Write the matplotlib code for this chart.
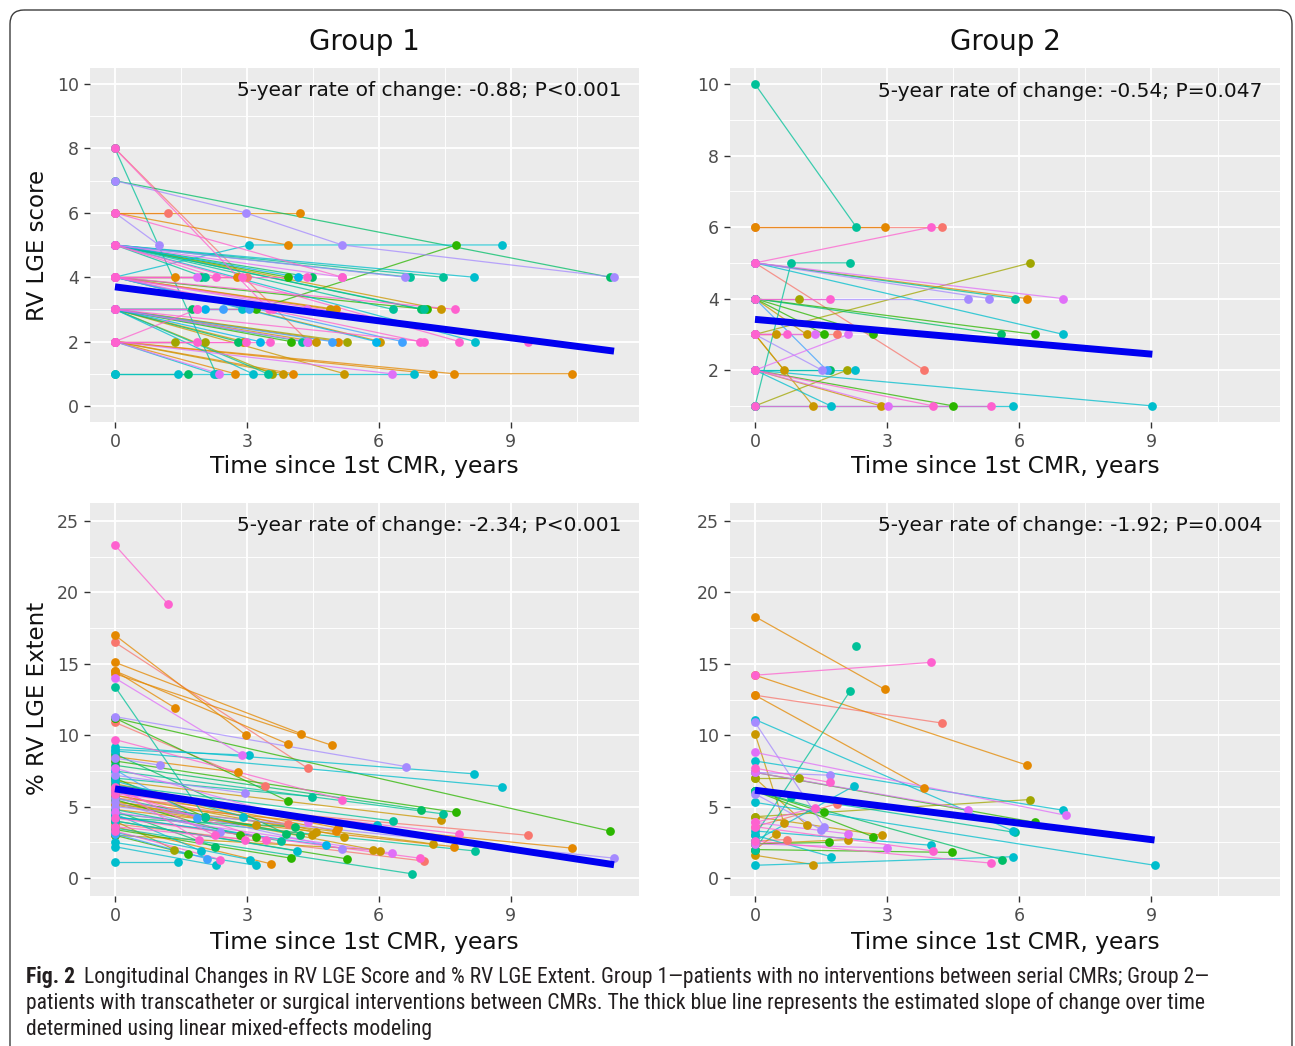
import numpy as np
import matplotlib
matplotlib.use("Agg")
import matplotlib.pyplot as plt
from matplotlib.patches import FancyBboxPatch
from matplotlib import font_manager

# ---------------------------------------------------------------- data
panel_titles = ["Group 1", "Group 2"]
x_label = "Time since 1st CMR, years"
y_labels = ["RV LGE score", "% RV LGE Extent"]
annotations = [["5-year rate of change: -0.88; P<0.001", "5-year rate of change: -0.54; P=0.047"],
               ["5-year rate of change: -2.34; P<0.001", "5-year rate of change: -1.92; P=0.004"]]

# fitted mixed-model lines: intercept and 5-year change
trend_intercept = [[3.70, 3.42], [6.25, 6.15]]
trend_change_5y = [[-0.88, -0.54], [-2.34, -1.92]]

x_ticks = [0, 3, 6, 9]
score_ticks_g1 = [0, 2, 4, 6, 8, 10]
score_ticks_g2 = [2, 4, 6, 8, 10]
extent_ticks = [0, 5, 10, 15, 20, 25]

# ---- Group 1, RV LGE score (per patient: times, values, patient colour group)
g1_score_t = [[0, 2.3], [0, 3.5], [0, 4.4], [0, 11.25], [0, 2.97, 5.17, 11.35], [0, 1.0], [0, 1.2], [0, 4.2],
              [0, 3.93], [0, 5.17], [0, 3.05, 8.81], [0, 3.2, 7.76], [0, 8.16], [0, 7.45], [0, 6.7], [0, 6.6],
              [0, 4.17], [0, 4.47], [0, 3.93], [0, 2.04], [0, 2.3], [0, 5.17], [0, 6.32], [0, 6.97],
              [0, 7.02], [0, 7.42], [0, 8.19], [0, 7.83], [0, 1.37], [0, 1.87], [0, 1.96], [0, 2.78],
              [0, 2.9], [0, 3.0], [0, 4.36], [0, 7.73], [0, 7.09], [0, 4.9], [0, 5.03], [0, 4.36],
              [0, 3.04], [0, 6.53], [0, 6.93], [0, 5.94], [0, 6.03], [0, 9.39], [0, 1.75], [0, 1.87],
              [0, 2.04], [0, 2.46], [0, 2.9], [0, 3.6], [0, 4.0], [0, 4.26], [0, 4.36], [0, 4.57],
              [0, 4.93], [0, 5.08], [0, 5.27], [0, 7.02], [0, 2.8], [0, 2.92], [0, 3.29], [0, 3.13],
              [0, 3.47], [0, 3.57], [0, 5.22], [0, 1.37], [0, 1.87], [0, 2.04], [0, 2.97], [0, 3.52],
              [0, 2.25], [0, 2.37], [0, 2.73], [0, 3.83], [0, 4.04], [0, 6.29], [0, 7.23], [0, 1.44, 6.8],
              [0, 1.65], [0, 7.71, 10.39], [0, 1.87]]
g1_score_v = [[8, 1], [8, 3], [8, 2], [7, 4], [7, 6, 5, 4], [6, 5], [6, 6], [6, 6],
              [6, 5], [6, 4], [4, 5, 5], [3, 3, 5], [5, 4], [5, 4], [5, 4], [5, 4],
              [5, 4], [5, 4], [5, 4], [5, 4], [5, 4], [5, 4], [5, 3], [5, 3],
              [5, 3], [5, 3], [5, 2], [5, 2], [4, 4], [4, 4], [4, 4], [4, 4],
              [4, 4], [4, 4], [4, 4], [4, 3], [4, 3], [4, 3], [4, 3], [4, 3],
              [4, 3], [4, 2], [4, 2], [4, 2], [4, 2], [4, 2], [3, 3], [3, 3],
              [3, 3], [3, 3], [3, 3], [3, 3], [3, 2], [3, 2], [3, 2], [3, 2],
              [3, 2], [3, 2], [3, 2], [3, 2], [3, 2], [3, 2], [3, 2], [3, 1],
              [3, 1], [3, 1], [3, 1], [2, 2], [2, 2], [2, 2], [2, 2], [2, 2],
              [2, 1], [2, 1], [2, 1], [2, 1], [2, 1], [2, 1], [2, 1], [1, 1, 1],
              [1, 1], [2, 1, 1], [2, 3]]
g1_score_pid = ("t k r e p p r o  o k c g c t t p  b e g t k m t e  t y c k o m e o  "
                "k r k k g y o m  v v k b y k e m  b v c k g t m y  v o l k e y b c  "
                "t l y l k l k k  c m o y o m o c  e o k").split()

# ---- Group 1, % RV LGE extent
g1_ext_t = [[0, 1.2], [0, 2.98], [0, 4.38], [0, 4.24], [0, 3.93], [0, 4.93], [0, 1.37], [0, 2.9],
            [0, 2.04], [0, 6.63], [0, 11.25], [0, 3.93], [0, 3.42], [0, 5.17], [0, 8.16], [0, 8.81],
            [0, 3.04], [0, 1.03], [0, 2.8], [0, 7.76], [0, 6.97], [0, 7.45], [0, 7.42], [0, 2.96],
            [0, 4.49], [0, 6.33], [0, 5.95], [0, 7.83], [0, 9.39], [0, 10.39], [0, 11.35], [0, 8.19],
            [0, 7.71], [0, 7.23], [0, 6.76], [0, 6.93], [0, 7.02], [0, 6.29], [0, 6.03], [0, 5.86],
            [0, 5.27], [0, 5.22], [0, 5.17], [0, 4.81], [0, 5.03], [0, 5.08], [0, 4.57], [0, 4.47],
            [0, 4.4], [0, 4.2], [0, 4.13], [0, 4.0], [0, 4.1], [0, 3.93], [0, 3.77], [0, 3.55],
            [0, 3.44], [0, 3.2], [0, 3.2], [0, 3.2], [0, 3.06], [0, 2.92], [0, 2.84], [0, 2.96],
            [0, 2.4], [0, 2.27], [0, 2.27], [0, 2.4], [0, 2.3], [0, 2.1], [0, 2.04], [0, 1.96],
            [0, 1.9], [0, 1.87], [0, 1.65], [0, 1.44], [0, 1.35], [0, 3.9]]
g1_ext_v = [[23.3, 19.2], [17.0, 10.0], [16.5, 7.7], [15.1, 10.1], [14.5, 9.4], [14.3, 9.3], [14.5, 11.9], [14.0, 8.6],
            [13.4, 4.3], [11.3, 7.8], [11.2, 3.3], [11.2, 5.4], [10.9, 6.45], [9.7, 5.5], [9.2, 7.3], [8.9, 6.4],
            [9.0, 8.6], [8.4, 7.9], [8.5, 7.4], [8.2, 4.6], [7.9, 4.8], [7.5, 4.5], [6.8, 4.1], [7.2, 5.95],
            [7.0, 5.7], [6.5, 4.0], [6.0, 3.7], [5.9, 3.1], [5.6, 3.0], [5.3, 2.1], [5.0, 1.4], [4.5, 1.9],
            [4.8, 2.2], [5.2, 2.4], [3.5, 0.3], [4.2, 1.4], [3.8, 1.2], [4.6, 1.75], [5.4, 1.9], [3.0, 2.0],
            [4.0, 1.35], [6.2, 2.9], [5.6, 2.05], [4.3, 2.3], [6.3, 3.3], [6.6, 3.5], [5.8, 3.2], [5.1, 3.0],
            [7.7, 3.9], [5.6, 3.0], [4.0, 1.9], [3.4, 1.4], [4.2, 3.6], [5.8, 3.8], [4.8, 2.6], [3.6, 1.0],
            [6.1, 2.7], [5.2, 3.7], [4.3, 2.9], [2.5, 0.9], [3.2, 1.3], [6.8, 4.3], [5.5, 3.0], [3.6, 2.7],
            [5.3, 3.2], [6.4, 3.0], [4.7, 2.2], [3.3, 1.3], [2.2, 0.9], [3.1, 1.35], [7.0, 4.3], [4.5, 1.9],
            [6.3, 2.7], [7.6, 4.2], [3.0, 1.7], [1.1, 1.1], [4.0, 2.0], [8.7, 3.1]]
g1_ext_pid = ("k o r o o o o m  t p g g r k c c  c p o g e t y p  t t c k r o p t  "
              "o y t k r m y y  g y p b o o y y  m e c g e r t o  k y g c c c g k  "
              "p k e k c v g c  k v g c l e").split()

# ---- Group 2, RV LGE score
g2_score_t = [[0, 2.3], [0, 2.95], [0, 4.0], [0, 4.25], [0, 0.82, 2.16], [0, 6.25], [0, 1.0], [0, 1.7],
              [0, 4.84], [0, 5.32], [0, 5.9], [0, 6.18], [0, 7.0], [0, 0.48], [0, 0.73], [0, 1.17],
              [0, 1.37], [0, 1.57], [0, 1.86], [0, 2.12], [0, 2.68], [0, 5.59], [0, 6.36], [0, 7.0],
              [0, 0.66], [0, 1.52], [0, 1.63], [0, 1.7], [0, 2.09], [0, 2.26], [0, 3.84], [0, 1.32],
              [0, 1.72], [0, 2.86], [0, 3.02], [0, 4.05], [0, 4.5], [0, 5.36], [0, 5.86], [0, 9.02]]
g2_score_v = [[10, 6], [6, 6], [5, 6], [6, 6], [1, 5, 5], [3, 5], [4, 4], [4, 4],
              [4, 4], [5, 4], [5, 4], [5, 4], [5, 4], [3, 3], [3, 3], [4, 3],
              [3, 3], [4, 3], [3, 3], [2, 3], [4, 3], [4, 3], [4, 3], [5, 3],
              [3, 2], [3, 2], [4, 2], [2, 2], [1, 2], [2, 2], [5, 2], [3, 1],
              [2, 1], [2, 1], [2, 1], [2, 1], [2, 1], [1, 1], [1, 1], [2, 1]]
g2_score_pid = ("t o k r t l l k  p p t o m y k y  m g r m g e g c  y p v e l c r y  "
                "c y m k g k c c").split()

# ---- Group 2, % RV LGE extent
g2_ext_t = [[0, 2.95], [0, 4.0], [0, 6.18], [0, 4.25], [0, 3.84], [0, 2.16], [2.3], [0, 5.86],
            [0, 1.57], [0, 0.66], [0, 7.05], [0, 7.0], [0, 1.7], [0, 1.7], [0, 1.0], [0, 2.25],
            [0, 6.25], [0, 4.84], [0, 1.36], [0, 1.86], [0, 1.57], [0, 0.82], [0, 6.36], [0, 5.9],
            [0, 1.18], [0, 1.5], [0, 0.48], [0, 0.73], [0, 2.12], [0, 1.68], [0, 2.12], [0, 2.68],
            [0, 2.88], [0, 3.0], [0, 4.0], [0, 4.05], [0, 4.48], [0, 1.73], [0, 1.32], [0, 5.36],
            [0, 5.6], [0, 5.86], [0, 9.07]]
g2_ext_v = [[18.3, 13.2], [14.2, 15.1], [14.2, 7.9], [12.8, 10.85], [12.8, 6.3], [3.0, 13.1], [16.25], [11.1, 3.3],
            [10.9, 3.6], [10.1, 3.85], [8.8, 4.4], [8.2, 4.75], [7.7, 6.7], [7.4, 7.2], [7.0, 7.0], [2.6, 6.45],
            [4.3, 5.5], [7.4, 4.8], [3.9, 4.9], [3.6, 5.2], [6.1, 4.6], [2.0, 5.7], [7.4, 3.9], [6.1, 3.2],
            [7.0, 3.7], [5.9, 3.4], [2.0, 3.1], [2.6, 2.7], [3.9, 3.1], [2.4, 2.5], [2.4, 2.7], [6.1, 2.9],
            [4.3, 3.0], [2.4, 2.1], [3.3, 2.3], [3.6, 1.9], [2.0, 1.8], [3.0, 1.5], [1.6, 0.95], [2.6, 1.05],
            [6.1, 1.3], [0.9, 1.5], [5.3, 0.9]]
g2_ext_pid = ("o k o r o t t c  p y m c k p l c  l m k r g t g t  y p y r m g y g  "
              "y m c k g c y k  e c c").split()

# ---------------------------------------------------------------- colours (ggplot hue palette)
def hcl_hex(h, c=100.0, l=65.0):
    hr = np.deg2rad(h)
    U, V = c * np.cos(hr), c * np.sin(hr)
    Xn, Yn, Zn = 95.047, 100.0, 108.883
    den = Xn + 15 * Yn + 3 * Zn
    un, vn = 4 * Xn / den, 9 * Yn / den
    Y = Yn * ((l + 16) / 116) ** 3
    up, vp = U / (13 * l) + un, V / (13 * l) + vn
    X = Y * 9 * up / (4 * vp)
    Z = Y * (12 - 3 * up - 20 * vp) / (4 * vp)
    X, Y, Z = X / 100, Y / 100, Z / 100
    rgb = np.array([3.2404542 * X - 1.5371385 * Y - 0.4985314 * Z,
                    -0.9692660 * X + 1.8760108 * Y + 0.0415560 * Z,
                    0.0556434 * X - 0.2040259 * Y + 1.0572252 * Z])
    rgb = np.where(rgb <= 0.0031308, 12.92 * rgb, 1.055 * np.clip(rgb, 0, None) ** (1 / 2.4) - 0.055)
    return tuple(np.clip(rgb, 0, 1))

hue_of = {'r': 15, 'o': 40, 'y': 62, 'l': 88, 'g': 125, 'e': 150, 't': 172,
          'c': 200, 'b': 222, 'v': 250, 'p': 272, 'm': 298, 'k': 328}

# ---------------------------------------------------------------- figure
W, H = 1295, 1046
plt.rcParams['font.family'] = ['DejaVu Sans']
fig = plt.figure(figsize=(W / 100, H / 100), dpi=100)
fig.patch.set_facecolor('white')

bg = fig.add_axes([0, 0, 1, 1])
bg.set_xlim(0, W)
bg.set_ylim(H, 0)
bg.axis('off')
bg.add_patch(FancyBboxPatch((10, 10), 1282, 1100, boxstyle='round,pad=0,rounding_size=14',
                            fill=False, ec='#3c3c3c', lw=1.0))


def px_axes(x0, y0, x1, y1):
    return fig.add_axes([x0 / W, 1 - y1 / H, (x1 - x0) / W, (y1 - y0) / H])


panel_box = [[(90, 68, 639, 422), (730, 68, 1280, 422)],
             [(90, 503, 639, 896), (730, 503, 1280, 896)]]
data_t = [[g1_score_t, g2_score_t], [g1_ext_t, g2_ext_t]]
data_v = [[g1_score_v, g2_score_v], [g1_ext_v, g2_ext_v]]
data_c = [[g1_score_pid, g2_score_pid], [g1_ext_pid, g2_ext_pid]]
yticks = [[score_ticks_g1, score_ticks_g2], [extent_ticks, extent_ticks]]

all_t = [t for grp in (g1_score_t, g2_score_t, g1_ext_t, g2_ext_t) for p in grp for t in p]
xmax = max(all_t)
xlim = (-0.05 * xmax, xmax * 1.05)
ylims = [[(-0.5, 10.5), (0.55, 10.45)], [(-1.25, 26.25), (-1.25, 26.25)]]
annot_y = [9.8, 24.65]

for r in range(2):
    for c in range(2):
        ax = px_axes(*panel_box[r][c])
        ax.set_facecolor('#EBEBEB')
        for s in ax.spines.values():
            s.set_visible(False)
        ax.set_xlim(*xlim)
        ax.set_ylim(*ylims[r][c])
        ax.set_xticks(x_ticks)
        ax.set_xticks([1.5, 4.5, 7.5, 10.5], minor=True)
        yt = yticks[r][c]
        step = yt[1] - yt[0]
        ymin, ymax = ylims[r][c]
        minors = [v for v in np.arange(yt[0] - step / 2, yt[-1] + step, step) if ymin < v < ymax]
        ax.set_yticks(yt)
        ax.set_yticks(minors, minor=True)
        ax.grid(which='major', color='white', lw=1.35)
        ax.grid(which='minor', color='white', lw=0.65)
        ax.set_axisbelow(True)
        ax.tick_params(which='major', length=4, width=1.0, color='#333333',
                       labelcolor='#4D4D4D', labelsize=12.5, pad=4)
        ax.tick_params(which='minor', length=0)

        ts, vs, cs = data_t[r][c], data_v[r][c], data_c[r][c]
        order = sorted(range(len(ts)), key=lambda i: hue_of[cs[i]])
        for i in order:
            ax.plot(ts[i], vs[i], '-', color=hcl_hex(hue_of[cs[i]]), lw=0.9, alpha=0.75, zorder=2)
        for i in order:
            ax.plot(ts[i], vs[i], 'o', color=hcl_hex(hue_of[cs[i]]), ms=6.3, mec='none', zorder=3)

        tmax = max(max(p) for p in ts)
        tt = np.array([0.0, tmax])
        ax.plot(tt, trend_intercept[r][c] + trend_change_5y[r][c] / 5 * tt, '-',
                color='#0000F0', lw=5.0, zorder=4, solid_capstyle='butt')

        ax.text(11.52, annot_y[r], annotations[r][c], ha='right', va='center',
                fontsize=14.5, color='#111111', zorder=5)

        cx = (panel_box[r][c][0] + panel_box[r][c][2]) / 2
        fig.text(cx / W, 1 - (467 if r == 0 else 942) / H, x_label, ha='center', va='center',
                 fontsize=16.8, color='#111111')
        if r == 0:
            fig.text(cx / W, 1 - 42 / H, panel_titles[c], ha='center', va='center',
                     fontsize=20, color='#111111')

fig.text(38 / W, 1 - 245 / H, y_labels[0], rotation=90, ha='center', va='center',
         fontsize=16.5, color='#111111')
fig.text(38 / W, 1 - 698 / H, y_labels[1], rotation=90, ha='center', va='center',
         fontsize=16.5, color='#111111')

# ---------------------------------------------------------------- caption
installed = {f.name for f in font_manager.fontManager.ttflist}
cap_family = [f for f in ['Liberation Sans Narrow', 'Roboto Condensed', 'Roboto', 'Lato']
              if f in installed][:1] + ['DejaVu Sans']
cap_lines = ["Longitudinal Changes in RV LGE Score and % RV LGE Extent. Group 1\u2014patients with no "
             "interventions between serial CMRs; Group 2\u2014",
             "patients with transcatheter or surgical interventions between CMRs. The thick blue line "
             "represents the estimated slope of change over time",
             "determined using linear mixed-effects modeling"]
cap_y = [977, 1003, 1029]
size0 = 13.0
fig.canvas.draw()
rend = fig.canvas.get_renderer()
probe = fig.text(26 / W, 0.5, cap_lines[1], family=cap_family, fontsize=size0)
wpx = probe.get_window_extent(renderer=rend).width
probe.remove()
cap_size = size0 * (1177 / wpx)

fig_lbl = fig.text(26 / W, 1 - cap_y[0] / H, "Fig. 2", family=cap_family, fontsize=cap_size,
                   fontweight='bold', va='center', ha='left', color='#231F20')
lw_px = fig_lbl.get_window_extent(renderer=rend).width
fig.text((26 + lw_px + 9) / W, 1 - cap_y[0] / H, cap_lines[0], family=cap_family, fontsize=cap_size,
         va='center', ha='left', color='#231F20')
for line, yy in zip(cap_lines[1:], cap_y[1:]):
    fig.text(26 / W, 1 - yy / H, line, family=cap_family, fontsize=cap_size, va='center',
             ha='left', color='#231F20')

fig.savefig('out.png', dpi=100, facecolor='white')
